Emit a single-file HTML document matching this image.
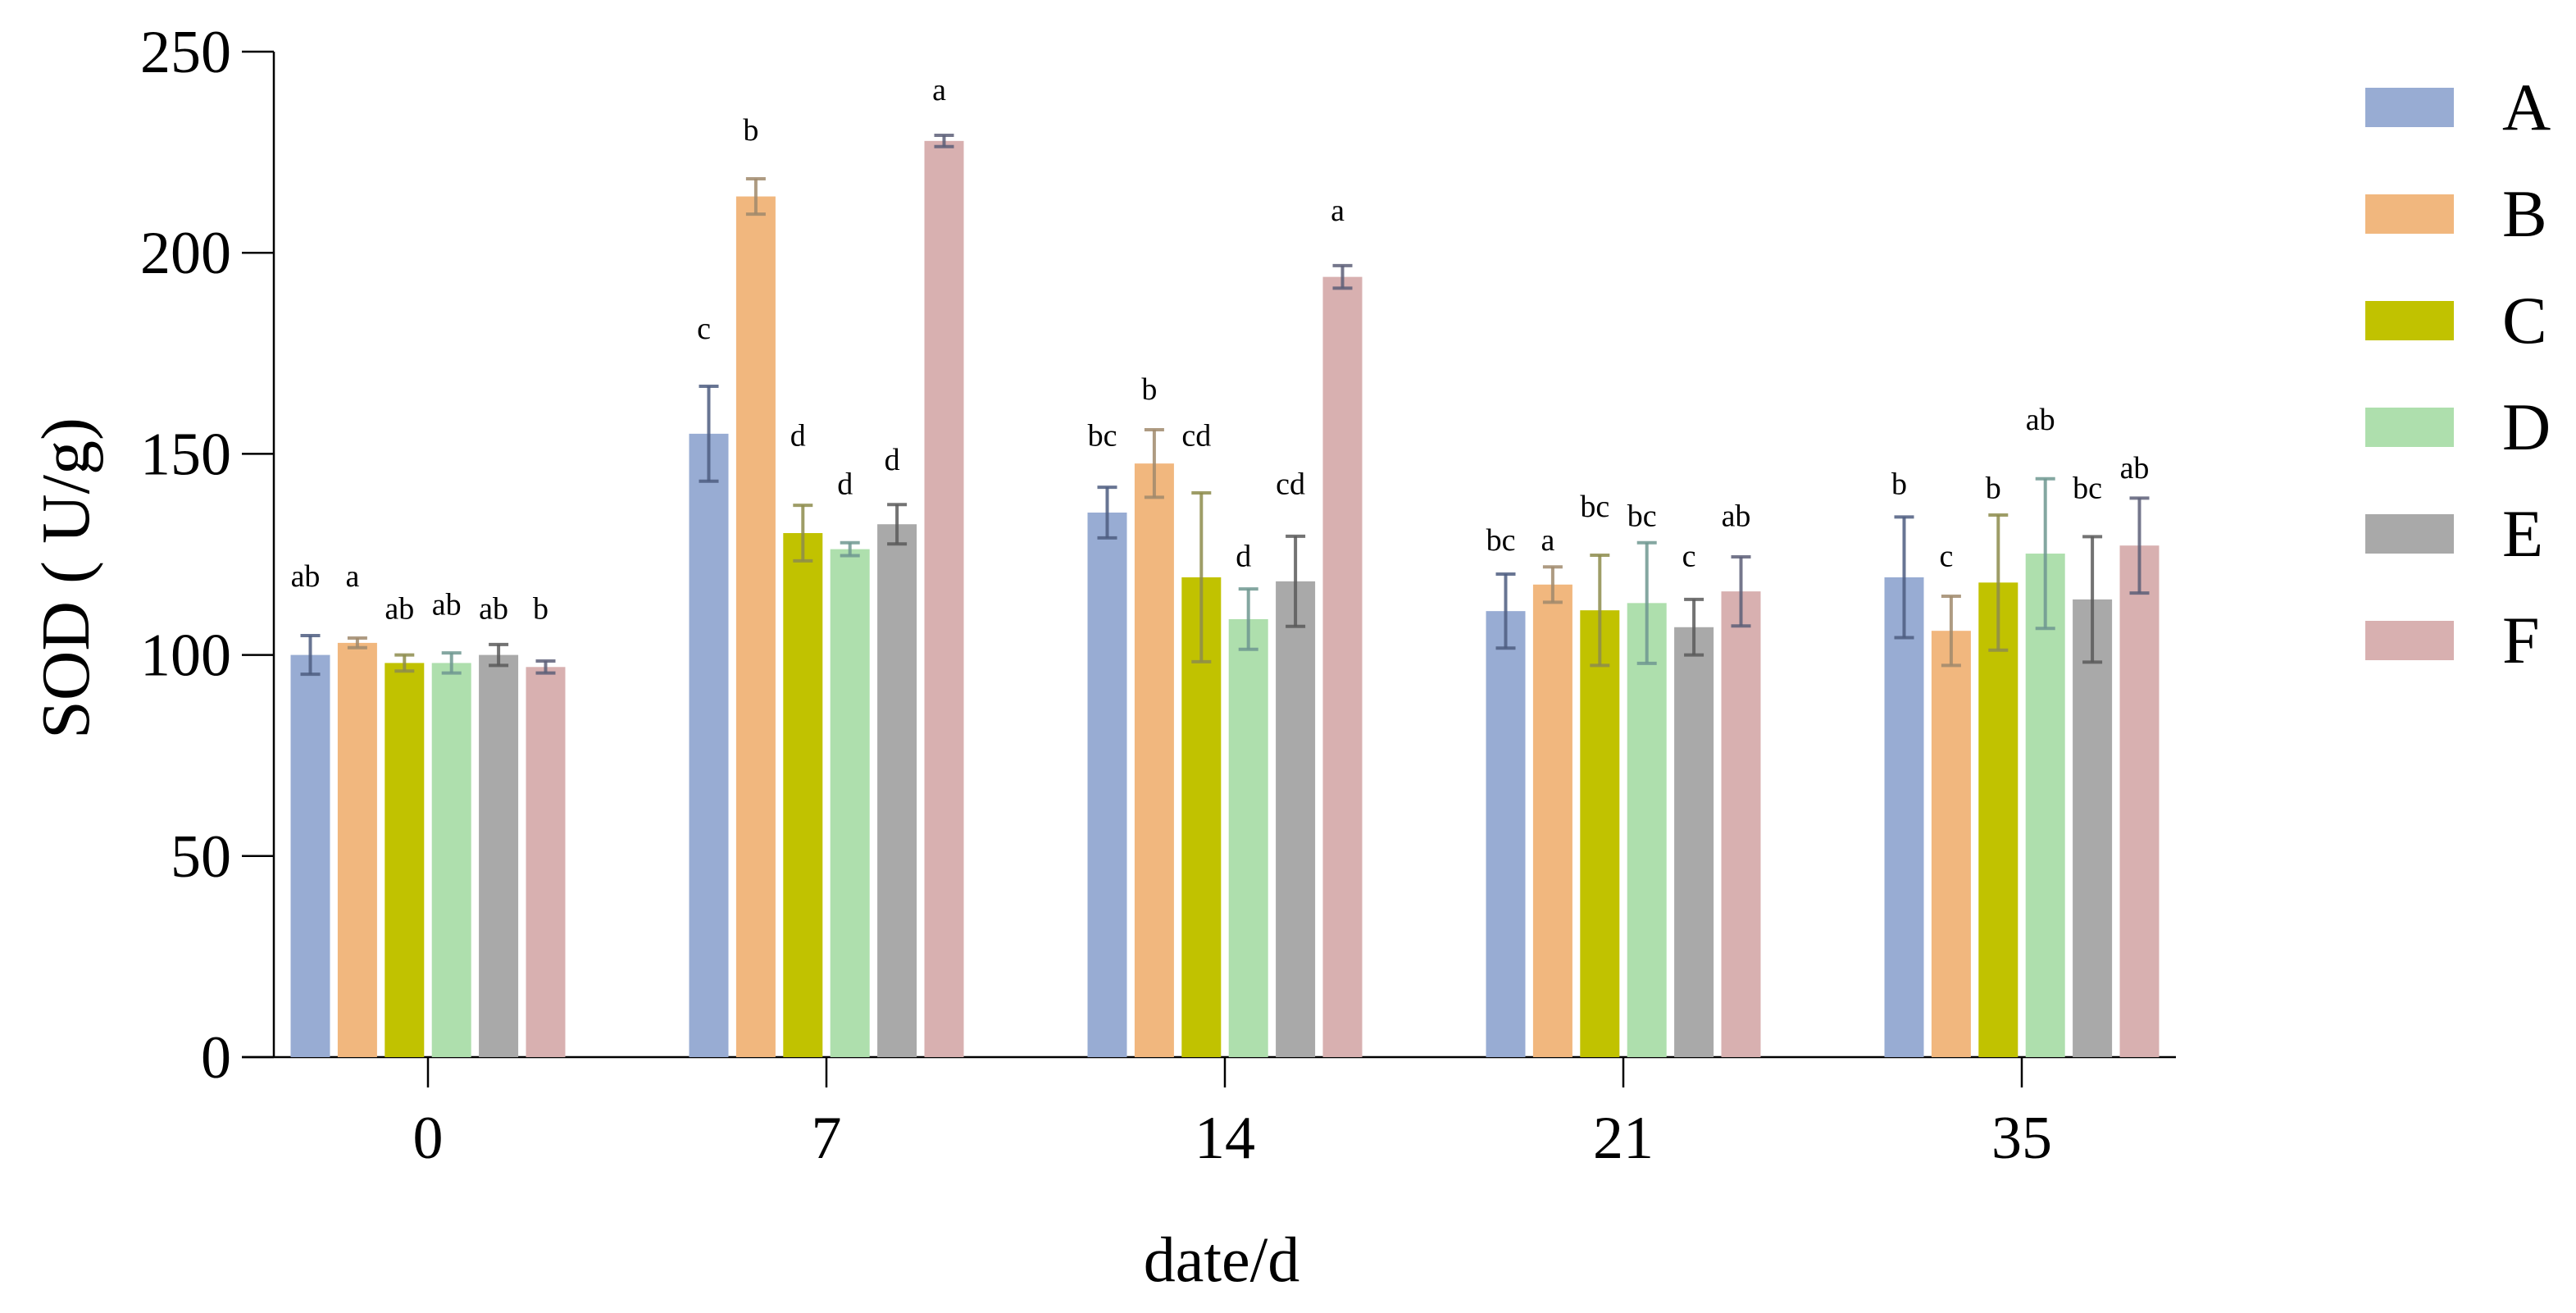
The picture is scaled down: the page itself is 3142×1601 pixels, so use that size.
<!DOCTYPE html>
<html><head><meta charset="utf-8"><style>
html,body{margin:0;padding:0;background:#fff;}
svg{display:block;}
text{font-family:"Liberation Serif",serif;fill:#000;}
</style></head><body>
<svg id="chart" width="3142" height="1601" viewBox="0 0 3142 1601" xmlns="http://www.w3.org/2000/svg">
<g id="axes"></g>
<g id="bars"></g>
<g id="legend"></g>
<text transform="translate(108,705) rotate(-90)" text-anchor="middle" font-size="84">SOD ( U/g)</text>
<text x="1490" y="1562" text-anchor="middle" font-size="78">date/d</text>
</svg>
<script>
const categories = ["0","7","14","21","35"];
const seriesNames = ["A","B","C","D","E","F"];
const valuesA = [100, 155, 135.4, 110.9, 119.3];
const valuesB = [103, 214, 147.6, 117.5, 106];
const valuesC = [98, 130.3, 119.3, 111.1, 118];
const valuesD = [98, 126.3, 108.9, 112.9, 125.2];
const valuesE = [100, 132.5, 118.3, 106.9, 113.8];
const valuesF = [97, 227.8, 194, 115.8, 127.2];
const errA = [4.8, 11.8, 6.3, 9.2, 15];
const errB = [1.2, 4.4, 8.4, 4.4, 8.6];
const errC = [2, 6.9, 21, 13.7, 16.8];
const errD = [2.5, 1.6, 7.5, 15, 18.6];
const errE = [2.6, 4.9, 11.2, 6.9, 15.6];
const errF = [1.5, 1.4, 2.8, 8.6, 11.8];
const lettersA = ["ab","c","bc","bc","b"];
const lettersB = ["a","b","b","a","c"];
const lettersC = ["ab","d","cd","bc","b"];
const lettersD = ["ab","d","d","bc","ab"];
const lettersE = ["ab","d","cd","c","bc"];
const lettersF = ["b","a","a","ab","ab"];
const letterPosA = [117, 178.6, 152, 126, 140];
const letterPosB = [117, 228, 163.5, 126, 122];
const letterPosC = [109, 152, 152, 134.4, 139];
const letterPosD = [110, 140, 122, 132, 156];
const letterPosE = [109, 146, 140, 122, 139];
const letterPosF = [109, 238, 208, 132, 144];
const yTicks = [0,50,100,150,200,250];

const values=[valuesA,valuesB,valuesC,valuesD,valuesE,valuesF];
const errs=[errA,errB,errC,errD,errE,errF];
const letters=[lettersA,lettersB,lettersC,lettersD,lettersE,lettersF];
const letterPos=[letterPosA,letterPosB,letterPosC,letterPosD,letterPosE,letterPosF];
const colors=["#98acd3","#f1b77e","#c1c200","#aedfad","#a9a9a9","#d8b0b0"];
const errColors=["#4d5d80","#a08a6c","#8d8c4c","#6f9890","#5b5b5b","#5d5f78"];

const NS="http://www.w3.org/2000/svg";
const X0=334, Y0=1289, YTOP=63, YMAX=250;
const y=v=>Y0-(v/YMAX)*(Y0-YTOP);
const xCenter=i=>522+i*486;
const BW=48, PITCH=57.4;
const xBar=(i,s)=>xCenter(i)+(s-2.5)*PITCH-BW/2;
function mk(tag,attrs,parent){const e=document.createElementNS(NS,tag);for(const k in attrs)e.setAttribute(k,attrs[k]);parent.appendChild(e);return e;}

const axes=document.getElementById('axes');
let l=mk('line',{x1:X0,y1:YTOP,x2:X0,y2:Y0,stroke:'#000','stroke-width':2.5},axes);


l=mk('line',{x1:295,y1:Y0,x2:2654,y2:Y0,stroke:'#000','stroke-width':2.5},axes);


yTicks.forEach(t=>{
  const tk=mk('line',{x1:295,y1:y(t),x2:X0,y2:y(t),stroke:'#000','stroke-width':2.5},axes);
  
  
  const tx=mk('text',{x:282,y:y(t)+25,'text-anchor':'end','font-size':74},axes);
  tx.textContent=t;
  
  
});
categories.forEach((c,i)=>{
  const tk=mk('line',{x1:xCenter(i),y1:Y0,x2:xCenter(i),y2:Y0+37,stroke:'#000','stroke-width':2.5},axes);
  
  
  const tx=mk('text',{x:xCenter(i),y:1412,'text-anchor':'middle','font-size':74},axes);
  tx.textContent=c;
  
  
});

const bars=document.getElementById('bars');
values.forEach((ser,s)=>{
  ser.forEach((v,i)=>{
    const x=xBar(i,s);
    const r=mk('rect',{x:x,y:y(v),width:BW,height:Y0-y(v),fill:colors[s]},bars);
    
    
    const cx=x+BW/2, e=errs[s][i];
    const g=mk('g',{stroke:errColors[s],'stroke-width':4,'stroke-opacity':0.85},bars);
    
    
    mk('line',{x1:cx,y1:y(v+e),x2:cx,y2:y(v-e)},g);
    mk('line',{x1:cx-12,y1:y(v+e),x2:cx+12,y2:y(v+e)},g);
    mk('line',{x1:cx-12,y1:y(v-e),x2:cx+12,y2:y(v-e)},g);
    const t=mk('text',{x:cx-6,y:y(letterPos[s][i]),'text-anchor':'middle','font-size':38},bars);
    t.textContent=letters[s][i];
    
    
  });
});

const legend=document.getElementById('legend');
seriesNames.forEach((n,s)=>{
  const yy=107+s*130;
  const r=mk('rect',{x:2885,y:yy,width:108,height:48,fill:colors[s]},legend);
  
  
  const t=mk('text',{x:3052,y:yy+51,'font-size':82},legend);
  t.textContent=n;
  
  
});
</script>
</body></html>
